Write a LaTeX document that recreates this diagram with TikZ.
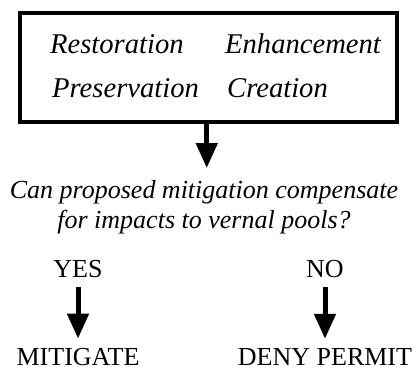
\documentclass[tikz,border=0pt]{standalone}
\usepackage{fontspec}
\setmainfont{Liberation Serif}
\usetikzlibrary{arrows.meta}

\begin{document}
\begin{tikzpicture}[x=1pt,y=-1pt,>={Triangle[width=21pt,length=25pt]}]

    \tikzstyle{every node}=[inner sep=0pt,font=\fontsize{26}{30}\selectfont]
    \tikzstyle{option}=[anchor=base west,font=\fontsize{28.6}{33}\selectfont\itshape]
    \tikzstyle{answer}=[anchor=base]
    \tikzstyle{bigarrow}=[->,line width=5pt]

    \useasboundingbox (0,0) rectangle (416,370);

    \node[draw,line width=4pt,minimum width=377.5pt,minimum height=109pt] (box) at (208.25,67.5) {};
    \node[option] (rest)  at (50,53)  {Restoration};
    \node[option] (enh)   at (225,53) {Enhancement};
    \node[option] (pres)  at (52,97)  {Preservation};
    \node[option] (creat) at (227,97) {Creation};

    \node[anchor=north,align=center,font=\fontsize{26}{30.5}\selectfont\itshape] (q) at (204,180)
        {Can proposed mitigation compensate\\for impacts to vernal pools?};

    \node[answer] (yes) at (78,277)  {YES};
    \node[answer] (no)  at (325,277) {NO};
    \node[answer] (mit)  at (78,365)  {MITIGATE};
    \node[answer] (deny) at (325,365) {DENY PERMIT};

    \draw[bigarrow,shorten >=12pt] ([xshift=-1.5pt]box.south) -- ([xshift=-1.5pt]box.south |- q.north);
    \draw[bigarrow,shorten <=10pt,shorten >=9pt] (yes) -- (mit);
    \draw[bigarrow,shorten <=10pt,shorten >=9pt] (no) -- (deny);
\end{tikzpicture}
\end{document}
